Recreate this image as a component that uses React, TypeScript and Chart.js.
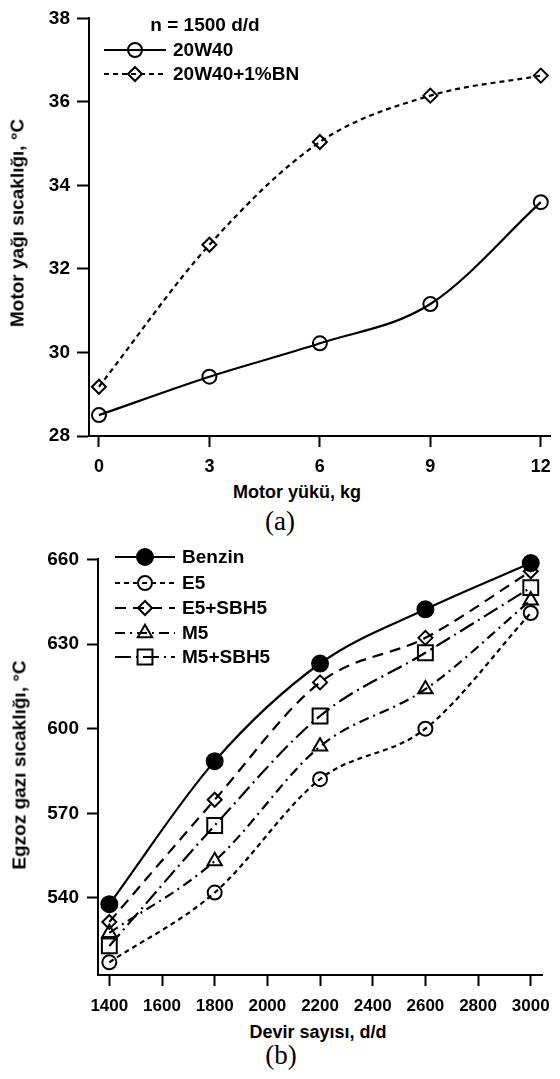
import React, { useEffect, useRef } from 'react';
import { Chart, registerables } from 'chart.js';
Chart.register(...registerables);

// ---------- data (a) ----------
const loadKg = [0, 3, 6, 9, 12];
const loadTicks = [0, 3, 6, 9, 12];
const oil20W40 = [28.5, 29.42, 30.22, 31.16, 33.6];
const oil20W40BN = [29.18, 32.58, 35.04, 36.15, 36.63];

// ---------- data (b) ----------
const rpm = [1400, 1800, 2200, 2600, 3000];
const rpmTicks = [1400, 1600, 1800, 2000, 2200, 2400, 2600, 2800, 3000];
const benzin = [537.8, 588.5, 623.1, 642.3, 658.7];
const e5 = [517.2, 541.9, 582.1, 600.0, 641.0];
const e5sbh5 = [531.5, 574.8, 616.4, 632.2, 655.8];
const m5 = [527.6, 553.1, 593.7, 614.0, 645.5];
const m5sbh5 = [523.0, 565.7, 604.5, 626.9, 650.0];

const SANS = '"Liberation Sans", Arial, Helvetica, sans-serif';
const SERIF = '"Liberation Serif", "Times New Roman", serif';

function drawMarker(ctx: CanvasRenderingContext2D, style: string, x: number, y: number, r: number, fill: string, stroke: string, lw: number) {
  ctx.save();
  ctx.setLineDash([]);
  ctx.beginPath();
  if (style === 'circle') {
    ctx.arc(x, y, r, 0, Math.PI * 2);
  } else if (style === 'rectRot') {
    ctx.moveTo(x - r, y);
    ctx.lineTo(x, y - r);
    ctx.lineTo(x + r, y);
    ctx.lineTo(x, y + r);
    ctx.closePath();
  } else if (style === 'triangle') {
    for (let k = 0; k < 3; k++) {
      const a = (k * 2 * Math.PI) / 3;
      const px = x + Math.sin(a) * r;
      const py = y - Math.cos(a) * r;
      if (k === 0) ctx.moveTo(px, py);
      else ctx.lineTo(px, py);
    }
    ctx.closePath();
  } else if (style === 'rect') {
    const s = r * Math.SQRT1_2;
    ctx.rect(x - s, y - s, 2 * s, 2 * s);
  }
  if (fill && fill !== 'rgba(0,0,0,0)' && fill !== 'transparent') {
    ctx.fillStyle = fill;
    ctx.fill();
  }
  ctx.lineWidth = lw;
  ctx.strokeStyle = stroke;
  ctx.stroke();
  ctx.restore();
}

type LegendCfg = {
  title?: { text: string; x: number; y: number };
  rows: number[];
  x0: number;
  x1: number;
  xm: number;
  xt: number;
  font: string;
};

function makeLegend(cfg: LegendCfg) {
  return {
    id: 'customLegend',
    afterDraw(chart: any) {
      const ctx: CanvasRenderingContext2D = chart.ctx;
      ctx.save();
      ctx.font = cfg.font;
      ctx.fillStyle = '#000';
      ctx.textBaseline = 'middle';
      if (cfg.title) {
        ctx.textAlign = 'center';
        ctx.fillText(cfg.title.text, cfg.title.x, cfg.title.y);
      }
      chart.data.datasets.forEach((ds: any, i: number) => {
        const y = cfg.rows[i];
        ctx.save();
        ctx.strokeStyle = ds.borderColor;
        ctx.lineWidth = ds.borderWidth;
        ctx.setLineDash(ds.borderDash || []);
        ctx.beginPath();
        ctx.moveTo(cfg.x0, y);
        ctx.lineTo(cfg.x1, y);
        ctx.stroke();
        ctx.restore();
        drawMarker(ctx, ds.pointStyle, cfg.xm, y, ds.pointRadius, ds.pointBackgroundColor, ds.pointBorderColor, ds.pointBorderWidth);
        ctx.fillStyle = '#000';
        ctx.textAlign = 'left';
        ctx.fillText(ds.label, cfg.xt, y + 1);
      });
      ctx.restore();
    },
  };
}

function series(label: string, xs: number[], ys: number[], dash: number[], style: string, radius: number, filled: boolean) {
  return {
    label,
    data: xs.map((x, i) => ({ x, y: ys[i] })),
    borderColor: '#000',
    borderWidth: 2.2,
    borderDash: dash,
    pointStyle: style,
    pointRadius: radius,
    pointHoverRadius: radius,
    pointBorderColor: '#000',
    pointBorderWidth: 2,
    pointBackgroundColor: filled ? '#000' : 'rgba(0,0,0,0)',
    cubicInterpolationMode: 'monotone',
    clip: false,
    fill: false,
  };
}

function axisStyle(tickLen: number, size: number, pad: number) {
  return {
    ticks: {
      font: { family: SANS, size, weight: 'bold' as const },
      color: '#000',
      padding: pad,
      maxRotation: 0,
      autoSkip: false,
      includeBounds: false,
      callback: (v: any) => String(v),
    },
    grid: { drawOnChartArea: false, drawTicks: true, tickLength: tickLen, tickWidth: 2, tickColor: '#000' },
    border: { display: true, color: '#000', width: 2 },
  };
}

export default function App() {
  const topRef = useRef<HTMLCanvasElement | null>(null);
  const botRef = useRef<HTMLCanvasElement | null>(null);

  useEffect(() => {
    document.body.style.margin = '0';
    const top = new Chart(topRef.current as HTMLCanvasElement, {
      type: 'line',
      data: {
        datasets: [
          series('20W40', loadKg, oil20W40, [], 'circle', 7, false),
          series('20W40+1%BN', loadKg, oil20W40BN, [5, 4], 'rectRot', 7, false),
        ] as any,
      },
      options: {
        animation: false,
        responsive: false,
        events: [],
        layout: { padding: { top: 12, right: 2, left: 0, bottom: 0 } },
        plugins: { legend: { display: false }, tooltip: { enabled: false } },
        scales: {
          x: {
            type: 'linear',
            min: -0.27,
            max: 12.25,
            ...axisStyle(11, 18, 9),
            afterBuildTicks: (s: any) => {
              s.ticks = loadTicks.map((v) => ({ value: v }));
            },
            afterFit: (s: any) => {
              s.height = 44;
            },
          },
          y: {
            type: 'linear',
            min: 28,
            max: 38,
            ...axisStyle(12, 19, 7),
            ticks: { ...axisStyle(12, 19, 7).ticks, stepSize: 2 },
            afterFit: (s: any) => {
              s.width = 89;
            },
          },
        } as any,
      },
      plugins: [
        makeLegend({
          title: { text: 'n = 1500 d/d', x: 205, y: 26 },
          rows: [50, 74],
          x0: 104,
          x1: 166,
          xm: 135,
          xt: 173,
          font: `bold 19px ${SANS}`,
        }),
      ],
    });

    const bot = new Chart(botRef.current as HTMLCanvasElement, {
      type: 'line',
      data: {
        datasets: [
          series('Benzin', rpm, benzin, [], 'circle', 8, true),
          series('E5', rpm, e5, [5, 4], 'circle', 7, false),
          series('E5+SBH5', rpm, e5sbh5, [11, 7], 'rectRot', 7, false),
          series('M5', rpm, m5, [10, 5, 2, 5], 'triangle', 8.3, false),
          series('M5+SBH5', rpm, m5sbh5, [16, 5, 2, 5], 'rect', 10.5, false),
        ] as any,
      },
      options: {
        animation: false,
        responsive: false,
        events: [],
        layout: { padding: { top: 13.5, right: 10, left: 0, bottom: 0 } },
        plugins: { legend: { display: false }, tooltip: { enabled: false } },
        scales: {
          x: {
            type: 'linear',
            min: 1357,
            max: 3045,
            ...axisStyle(11, 17, 10),
            afterBuildTicks: (s: any) => {
              s.ticks = rpmTicks.map((v) => ({ value: v }));
            },
            afterFit: (s: any) => {
              s.height = 45;
            },
          },
          y: {
            type: 'linear',
            min: 512.7,
            max: 660,
            ...axisStyle(11, 19, 8),
            ticks: { ...axisStyle(11, 19, 8).ticks, stepSize: 30 },
            afterFit: (s: any) => {
              s.width = 98;
            },
          },
        } as any,
      },
      plugins: [
        makeLegend({
          rows: [17, 43, 68, 93, 117],
          x0: 115,
          x1: 175,
          xm: 145,
          xt: 182,
          font: `bold 19px ${SANS}`,
        }),
      ],
    });

    return () => {
      top.destroy();
      bot.destroy();
    };
  }, []);

  const center = (x: number, y: number, extra: React.CSSProperties = {}): React.CSSProperties => ({
    position: 'absolute',
    left: x,
    top: y,
    transform: 'translate(-50%, -50%)',
    whiteSpace: 'nowrap',
    fontFamily: SANS,
    fontWeight: 'bold',
    fontSize: 18,
    color: '#000',
    lineHeight: 1,
    ...extra,
  });
  const rotated = (x: number, y: number): React.CSSProperties => ({
    ...center(x, y),
    fontSize: 19,
    transform: 'translate(-50%, -50%) rotate(-90deg)',
  });
  const serif = (x: number, y: number): React.CSSProperties => ({
    ...center(x, y),
    fontFamily: SERIF,
    fontWeight: 'normal',
    fontSize: 27,
  });

  return (
    <div style={{ position: 'relative', width: 560, height: 1079, background: '#fff', overflow: 'hidden' }}>
      <canvas ref={topRef} width={560} height={480} style={{ position: 'absolute', left: 0, top: 0, width: 560, height: 480 }} />
      <div style={rotated(17, 223)}>Motor yağı sıcaklığı, °C</div>
      <div style={center(297, 492)}>Motor yükü, kg</div>
      <div style={serif(280, 521)}>(a)</div>
      <canvas ref={botRef} width={560} height={480} style={{ position: 'absolute', left: 0, top: 540, width: 560, height: 480 }} />
      <div style={rotated(19, 765)}>Egzoz gazı sıcaklığı, °C</div>
      <div style={center(318, 1032)}>Devir sayısı, d/d</div>
      <div style={serif(281, 1055)}>(b)</div>
    </div>
  );
}
